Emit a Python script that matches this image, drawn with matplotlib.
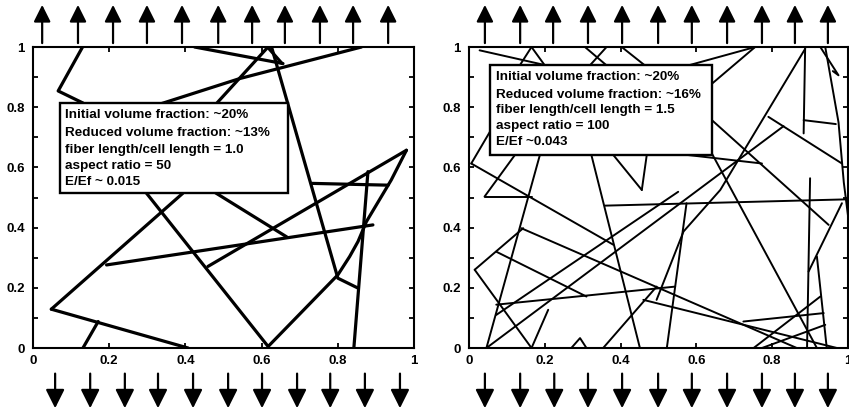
import matplotlib
matplotlib.use("Agg")
import matplotlib.pyplot as plt
from matplotlib.patches import Rectangle

plt.rcParams['font.family'] = ['Liberation Sans', 'DejaVu Sans']
plt.rcParams['font.weight'] = 'bold'

# fiber polylines (cell coordinates, 0..1)
left_fibers = [
    [(0.130, 1.0), (0.066, 0.854), (0.131, 0.814), (0.298, 0.514), (0.617, 0.005),
     (0.800, 0.243), (0.831, 0.304), (0.853, 0.354), (0.875, 0.420), (0.940, 0.558), (0.980, 0.657)],
    [(0.048, 0.129), (0.393, 0.514), (0.482, 0.813), (0.616, 0.999)],
    [(0.123, 0.812), (0.481, 0.514), (0.666, 0.369)],
    [(0.626, 1.0), (0.800, 0.232), (0.853, 0.199)],
    [(0.424, 1.0), (0.656, 0.945)],
    [(0.616, 0.999), (0.653, 0.946)],
    [(0.337, 0.812), (0.542, 0.895), (0.862, 1.0)],
    [(0.879, 0.586), (0.842, 0.0)],
    [(0.459, 0.271), (0.980, 0.657)],
    [(0.731, 0.547), (0.932, 0.541)],
    [(0.193, 0.276), (0.892, 0.409)],
    [(0.048, 0.129), (0.407, 0.0)],
    [(0.131, 0.0), (0.171, 0.088)],
]

right_fibers = [
    [(0.028, 0.989), (0.204, 0.939)],
    [(0.165, 1.0), (0.134, 0.939)],
    [(0.165, 1.0), (0.200, 0.939)],
    [(0.306, 1.0), (0.363, 0.939)],
    [(0.363, 1.0), (0.319, 0.939)],
    [(0.403, 1.0), (0.464, 0.939)],
    [(0.579, 0.939), (0.755, 1.0)],
    [(0.641, 0.878), (0.755, 1.0)],
    [(0.887, 1.0), (0.883, 0.713)],
    [(0.883, 0.757), (0.968, 0.744)],
    [(0.887, 0.994), (0.663, 0.525), (0.566, 0.387), (0.495, 0.160)],
    [(0.927, 1.0), (0.975, 0.906), (0.960, 0.920)],
    [(0.940, 1.0), (0.975, 0.75), (0.989, 0.55), (1.0, 0.44)],
    [(0.790, 0.768), (0.984, 0.613)],
    [(0.641, 0.757), (0.949, 0.409)],
    [(0.579, 0.641), (0.773, 0.613)],
    [(0.641, 0.646), (0.918, 0.0)],
    [(0.900, 0.564), (0.892, 0.0)],
    [(0.918, 0.304), (0.944, 0.0)],
    [(0.896, 0.254), (0.984, 0.481)],
    [(0.460, 0.160), (0.971, 0.0)],
    [(0.724, 0.088), (0.936, 0.116)],
    [(0.751, 0.0), (0.927, 0.171)],
    [(0.773, 0.0), (0.940, 0.077)],
    [(0.323, 0.641), (0.451, 0.0)],
    [(0.359, 0.473), (1.0, 0.494)],
    [(0.006, 0.613), (0.381, 0.343)],
    [(0.187, 0.641), (0.046, 0.0)],
    [(0.041, 0.503), (0.165, 0.503)],
    [(0.041, 0.503), (0.121, 0.641)],
    [(0.006, 0.613), (0.055, 0.718)],
    [(0.015, 0.260), (0.143, 0.398)],
    [(0.015, 0.260), (0.165, 0.0)],
    [(0.072, 0.320), (0.310, 0.171)],
    [(0.138, 0.398), (0.865, 0.0)],
    [(0.072, 0.144), (0.544, 0.204)],
    [(0.046, 0.0), (0.830, 0.737)],
    [(0.072, 0.110), (0.552, 0.519)],
    [(0.381, 0.641), (0.456, 0.525)],
    [(0.469, 0.641), (0.456, 0.525)],
    [(0.270, 0.0), (0.293, 0.033), (0.310, 0.0)],
    [(0.574, 0.481), (0.522, 0.0)],
    [(0.165, 0.0), (0.209, 0.127)],
    [(0.354, 0.0), (0.495, 0.204)],
]

left_text = ["Initial volume fraction: ~20%",
             "Reduced volume fraction: ~13%",
             "fiber length/cell length = 1.0",
             "aspect ratio = 50",
             "E/Ef ~ 0.015"]
right_text = ["Initial volume fraction: ~20%",
              "Reduced volume fraction: ~16%",
              "fiber length/cell length = 1.5",
              "aspect ratio = 100",
              "E/Ef ~0.043"]

# load arrows (x in axes fraction)
left_top_arrows = [0.024, 0.118, 0.210, 0.299, 0.391, 0.486, 0.575, 0.661, 0.753, 0.840, 0.932]
left_bot_arrows = [0.058, 0.150, 0.241, 0.328, 0.420, 0.512, 0.601, 0.693, 0.780, 0.871, 0.963]
right_top_arrows = [0.042, 0.135, 0.222, 0.314, 0.404, 0.499, 0.588, 0.681, 0.773, 0.860, 0.947]
right_bot_arrows = [0.042, 0.135, 0.225, 0.314, 0.404, 0.499, 0.588, 0.681, 0.773, 0.860, 0.947]

ticks = [0, 0.2, 0.4, 0.6, 0.8, 1.0]
tick_labels = ["0", "0.2", "0.4", "0.6", "0.8", "1"]

arrow_style = '-|>,head_length=0.6,head_width=0.3'


def draw_panel(ax, fibers, lw, lines, box, text_x, text_y, top_arrows, bot_arrows):
    for f in fibers:
        xs = [p[0] for p in f]
        ys = [p[1] for p in f]
        ax.plot(xs, ys, color='black', lw=lw, solid_capstyle='round',
                solid_joinstyle='round', zorder=2, clip_on=True)
    ax.set_xlim(0, 1)
    ax.set_ylim(0, 1)
    ax.set_xticks(ticks)
    ax.set_xticklabels(tick_labels)
    ax.set_yticks(ticks)
    ax.set_yticklabels(tick_labels)
    ax.set_yticks([0.1, 0.3, 0.5, 0.7, 0.9], minor=True)
    ax.tick_params(which='both', direction='in', top=True, right=True,
                   length=3.5, width=1.3, labelsize=9.5)
    ax.tick_params(axis='x', pad=5)
    ax.tick_params(axis='y', pad=6)
    for lab in ax.get_xticklabels() + ax.get_yticklabels():
        lab.set_fontweight('bold')
    for s in ax.spines.values():
        s.set_linewidth(1.5)

    x0, y0, x1, y1 = box
    ax.add_patch(Rectangle((x0, y0), x1 - x0, y1 - y0, facecolor='white',
                           edgecolor='black', lw=1.7, zorder=5))
    for t, yy in zip(lines, text_y):
        ax.text(text_x, yy, t, fontsize=9.7, fontweight='bold', va='center',
                ha='left', zorder=6)

    for xa in top_arrows:
        ax.annotate('', xy=(xa, 1.14), xytext=(xa, 1.013), xycoords='axes fraction',
                    arrowprops=dict(arrowstyle=arrow_style, mutation_scale=17,
                                    lw=1.6, color='black', shrinkA=0, shrinkB=0),
                    annotation_clip=False)
    for xa in bot_arrows:
        ax.annotate('', xy=(xa, -0.2), xytext=(xa, -0.085), xycoords='axes fraction',
                    arrowprops=dict(arrowstyle=arrow_style, mutation_scale=19,
                                    lw=1.6, color='black', shrinkA=0, shrinkB=0),
                    annotation_clip=False)


fig = plt.figure(figsize=(8.49, 4.12), dpi=100)
ax1 = fig.add_axes([0.0389, 0.1553, 0.4488, 0.7306])
ax2 = fig.add_axes([0.5524, 0.1553, 0.4464, 0.7306])

draw_panel(ax1, left_fibers, 2.3, left_text, (0.071, 0.514, 0.670, 0.813), 0.085,
           [0.773, 0.713, 0.657, 0.605, 0.552], left_top_arrows, left_bot_arrows)
draw_panel(ax2, right_fibers, 1.4, right_text, (0.055, 0.641, 0.641, 0.939), 0.070,
           [0.900, 0.842, 0.790, 0.737, 0.685], right_top_arrows, right_bot_arrows)

fig.savefig("out.png", dpi=100)
